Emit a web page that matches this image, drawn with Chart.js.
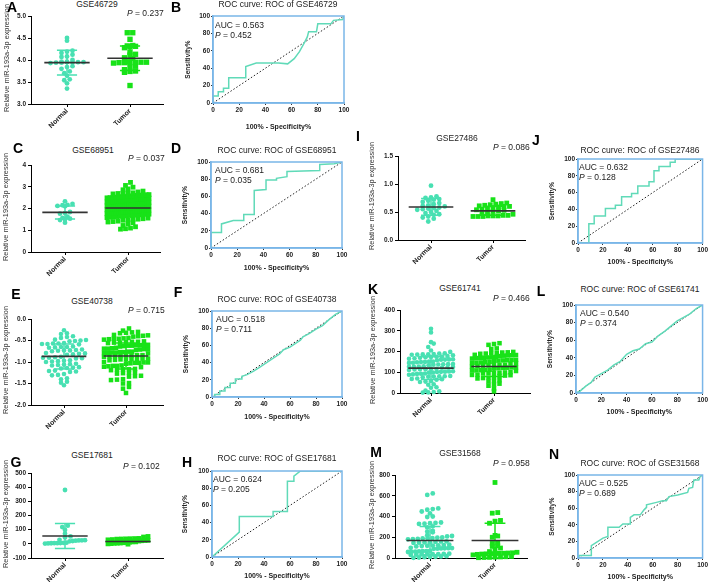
<!DOCTYPE html>
<html><head><meta charset="utf-8">
<script src="https://cdn.jsdelivr.net/npm/chart.js@4/dist/chart.umd.min.js"></script>
<style>
body{margin:0;background:#fff;width:709px;height:582px;position:relative;overflow:hidden;font-family:Arial,"Liberation Sans",Helvetica,sans-serif;}
canvas{position:absolute;}
.t{position:absolute;white-space:nowrap;color:#222;line-height:1;}
.ttl{font-size:8.5px;}
.pv{font-size:8.5px;}
.auc{font-size:8.5px;}
.yt{font-size:7.3px;color:#333;}
.lt{font-weight:bold;font-size:14px;color:#000;}
</style></head><body>
<script>
// ---------------- DATA ----------------
const groups = ['Normal', 'Tumor'];
const yTitle = 'Relative miR-193a-3p expression';

// Panel A: GSE46729
const A_normal = [4.50,4.44,4.21,4.19,4.16,4.12,4.08,4.07,4.00,3.96,3.95,3.95,3.94,3.94,3.95,3.96,3.95,3.93,3.86,3.84,3.80,3.74,3.70,3.64,3.56,3.54,3.47,3.35];
const A_tumor = [4.62,4.62,4.47,4.33,4.32,4.31,4.30,4.28,4.18,4.13,4.11,4.05,4.04,3.96,3.95,3.95,3.94,3.94,3.93,3.95,3.94,3.86,3.84,3.78,3.75,3.74,3.72,3.42];
const A_mean = [3.94, 4.04];
const A_sd = [0.28, 0.28];

// Panel C: GSE68951
const C_normal = [2.33,2.21,2.17,2.15,2.12,2.10,1.84,1.79,1.76,1.62,1.57,1.53,1.50,1.47,1.35];
const C_tumor = [3.20,3.06,2.98,2.90,2.86,2.80,2.76,
2.72,2.69,2.70,2.67,2.71,
2.64,2.61,2.63,2.58,2.60,2.62,2.57,2.59,
2.53,2.51,2.55,2.48,2.50,2.52,2.47,2.54,2.49,2.46,
2.44,2.41,2.43,2.38,2.40,2.42,2.37,2.39,2.45,2.36,2.41,
2.33,2.31,2.34,2.28,2.30,2.32,2.27,2.29,2.35,2.26,2.31,2.30,
2.23,2.21,2.24,2.18,2.20,2.22,2.17,2.19,2.25,2.16,2.21,2.20,
2.13,2.11,2.14,2.08,2.10,2.12,2.07,2.09,2.15,2.06,2.11,2.10,
2.03,2.01,2.04,1.98,2.00,2.02,1.97,1.99,2.05,1.96,2.01,2.00,
1.93,1.91,1.94,1.88,1.90,1.92,1.87,1.89,1.95,1.86,1.91,
1.83,1.81,1.84,1.78,1.80,1.82,1.77,1.79,1.85,1.76,
1.73,1.71,1.74,1.68,1.70,1.72,1.67,1.69,
1.63,1.61,1.64,1.58,1.60,1.56,1.66,
1.53,1.51,1.48,1.50,1.46,
1.42,1.38,1.40,1.35,
1.30,1.22,1.16,1.10,1.07,1.05];
const C_mean = [1.82, 2.02];
const C_sd = [0.30, 0.35];

// Panel E: GSE40738
const E_normal = [-0.26,-0.33,-0.35,-0.40,-0.42,-0.44,-0.48,-0.50,-0.52,-0.49,-0.51,
-0.57,-0.58,-0.56,-0.59,-0.58,-0.57,-0.65,-0.66,-0.64,-0.67,-0.65,
-0.72,-0.74,-0.73,-0.71,-0.75,-0.73,-0.80,-0.82,-0.81,-0.79,-0.83,
-0.90,-0.88,-0.91,-0.89,-0.92,-0.90,-0.97,-0.99,-0.98,-1.00,-0.96,
-1.05,-1.07,-1.06,-1.04,-1.08,-1.14,-1.12,-1.15,-1.13,
-1.22,-1.20,-1.23,-1.21,-1.28,-1.30,-1.31,-1.38,-1.40,-1.46,-1.48,-1.54];
const E_tumor = [-0.22,-0.27,-0.30,-0.32,-0.33,-0.31,-0.38,-0.40,-0.39,-0.41,-0.37,
-0.46,-0.47,-0.45,-0.48,-0.46,-0.44,-0.53,-0.55,-0.54,-0.52,-0.56,-0.53,-0.55,
-0.61,-0.62,-0.60,-0.63,-0.61,-0.64,-0.62,-0.60,-0.68,-0.70,-0.69,-0.71,-0.67,-0.70,-0.72,-0.69,
-0.77,-0.78,-0.76,-0.79,-0.77,-0.80,-0.78,-0.76,-0.79,-0.85,-0.86,-0.84,-0.87,-0.85,-0.88,-0.86,-0.84,
-0.93,-0.94,-0.92,-0.95,-0.93,-0.96,-0.94,-0.92,-1.01,-1.02,-1.00,-1.03,-1.01,-1.04,-1.02,
-1.09,-1.10,-1.08,-1.11,-1.09,-1.12,-1.17,-1.18,-1.16,-1.19,-1.17,
-1.25,-1.26,-1.24,-1.27,-1.33,-1.34,-1.32,-1.41,-1.42,-1.40,-1.49,-1.50,-1.58,-1.62,-1.72];
const E_mean = [-0.87, -0.86];
const E_sd = [0.29, 0.30];

// Panel G: GSE17681
const G_normal = [380,128,118,98,72,52,45,28,25,22,20,26,24,18,8,5,4,6,3,5,2,7];
const G_tumor = [52,48,38,36,35,33,34,37,30,28,25,22,24,20,18,15,12,10,8,6,5,4,2,0,-2];
const G_mean = [55, 17];
const G_sd = [88, 15];

// Panel I: GSE27486
const I_normal = [0.97,0.78,0.76,0.75,0.73,0.72,0.70,0.68,0.66,0.64,0.62,0.61,0.60,0.58,0.57,0.56,0.55,0.54,0.52,0.50,0.48,0.46,0.45,0.42,0.40,0.38,0.33];
const I_tumor = [0.72,0.66,0.65,0.64,0.63,0.62,0.61,0.60,0.60,0.59,0.58,0.57,0.55,0.54,0.53,0.52,0.51,0.49,0.47,0.46,0.44,0.43,0.43,0.42,0.42,0.43,0.44,0.42];
const I_mean = [0.59, 0.52];
const I_sd = [0.15, 0.08];

// Panel K: GSE61741
const K_normal = [310,292,245,238,222,205,198,188,185,190,182,186,191,184,187,
175,172,178,170,176,173,162,160,165,158,163,161,167,150,148,152,146,151,149,145,
138,136,140,134,139,137,127,125,129,123,128,126,122,115,113,117,111,116,114,
103,101,105,99,104,102,98,92,90,94,88,93,80,78,82,76,81,79,68,66,70,64,55,53,57,42,40,28,25,12,8,5,3,2];
const K_tumor = [240,236,232,215,212,195,192,198,190,196,193,189,182,180,184,178,183,181,
170,168,172,166,171,169,174,158,156,160,154,159,157,146,144,148,142,147,145,150,
134,132,136,130,135,133,122,120,124,118,123,121,126,110,108,112,106,111,109,
98,96,100,94,99,97,86,84,88,82,87,74,72,76,70,62,58,55,45,40,35,20,8];
const K_mean = [120, 128];
const K_sd = [55, 48];

// Panel M: GSE31568
const M_normal = [622,608,478,472,465,448,430,400,395,342,338,335,330,328,305,295,262,255,248,220,212,208,
198,192,188,185,182,195,190,180,158,152,150,148,155,145,160,125,120,118,122,115,128,112,
98,95,92,90,88,94,96,68,65,62,60,58,66,64,42,38,35,32,36,40,30,34,18,15,12,10,8,5,2];
const M_tumor = [728,438,432,362,355,335,218,212,200,148,140,118,112,96,86,62,55,50,48,46,45,44,42,40,38,35,30,15,12,10,8,6,5,3];
const M_mean = [168, 168];
const M_sd = [136, 168];

// ROC curves (x = 100% - specificity, y = sensitivity)
const B_x = [0,0,4,4,8,8,12,12,25,25,33,45,50,57,62,66,70,72,73,79,80,90,92,99,100];
const B_y = [0,8,8,13,13,17,17,29,29,42,46,46,46,45,51,59,70,76,82,82,91,91,95,96,100];
const D_x = [0,0,8,8,17,25,25,33,33,42,42,50,50,58,58,83,83,94,100];
const D_y = [0,18,18,28,32,32,39,39,67,68,79,79,81,83,89,90,97,98,100];
const F_x = [0,2,2,6,6,10,10,14,14,18,18,23,23,27,32,36,40,44,48,52,55,60,64,68,70,75,80,85,90,95,100];
const F_y = [0,0,3,3,7,7,11,11,16,16,21,21,24,26,30,34,38,42,46,50,55,58,62,66,70,74,79,83,90,96,100];
const H_x = [0,21,21,47,47,58,58,63,63,68,100];
const H_y = [0,29,47,47,53,53,88,88,94,100,100];
const J_x = [0,8.7,8.7,13,13,22,22,30,30,35,35,43,43,48,48,57,57,61,61,65,65,74,74,78,78,100];
const J_y = [0,0,23,23,32,32,41,41,45,45,55,55,59,59,68,68,73,73,86,86,91,91,96,96,100,100];
const L_x = [0,3,8,12,15,20,25,30,35,40,45,50,55,60,65,70,75,80,85,90,95,100];
const L_y = [0,2,8,12,18,22,26,32,36,44,48,50,56,58,65,70,76,82,86,90,96,100];
const N_x = [0,1,10.7,10.7,20,24,24,33,36,42,42,45,50,53,55,55,63,68,71,73,80,88,89,92,93,97,98,100];
const N_y = [0,3,3,15,24,26,37,37,41,41,49,52,52,58,61,64,67,69,69,74,76,79,84,85,94,94,98,100];

const scatterIds = ['GSE46729','GSE68951','GSE40738','GSE17681','GSE27486','GSE61741','GSE31568'];
const scatterP = ['0.237','0.037','0.715','0.102','0.086','0.466','0.958'];
const rocIds = ['GSE46729','GSE68951','GSE40738','GSE17681','GSE27486','GSE61741','GSE31568'];
const rocAUC = ['0.563','0.681','0.518','0.624','0.632','0.540','0.525'];
const rocP = ['0.452','0.035','0.711','0.205','0.128','0.374','0.689'];

// ---------------- STYLE ----------------
const FONT = 'Arial, "Liberation Sans", Helvetica, sans-serif';
Chart.defaults.font.family = FONT;
Chart.defaults.color = '#222';
const NORMAL_COLOR = 'rgb(72,224,178)';
const TUMOR_COLOR = 'rgb(24,226,24)';
const ROC_COLOR = 'rgb(96,218,184)';
const BOX_COLOR = 'rgb(122,182,232)';

function makeCanvas(left, top, w, h) {
  const c = document.createElement('canvas');
  c.width = w; c.height = h;
  c.style.left = left + 'px'; c.style.top = top + 'px';
  c.style.width = w + 'px'; c.style.height = h + 'px';
  document.body.appendChild(c);
  return c;
}
function txt(html, x, y, cls, mode) {
  const d = document.createElement('div');
  d.className = 't ' + cls;
  d.innerHTML = html;
  d.style.left = x + 'px'; d.style.top = y + 'px';
  d.style.transform = mode === 'c' ? 'translate(-50%,-50%)' : mode === 'r' ? 'translate(-50%,-50%) rotate(-90deg)' : 'translate(0,-50%)';
  document.body.appendChild(d);
}
// Prism-like row layout of dots (x spread computed from the values)
function swarm(vals, center, ymin, ymax, H, pxPerX, rowPx, dotPx, halfPx) {
  const bins = {};
  vals.forEach(v => {
    const k = Math.round(((v - ymin) / (ymax - ymin) * H) / rowPx);
    (bins[k] = bins[k] || []).push(v);
  });
  const out = [];
  Object.values(bins).forEach(arr => {
    arr.sort((a, b) => a - b);
    const n = arr.length;
    const sp = n > 1 ? Math.min(dotPx, 2 * halfPx / (n - 1)) : 0;
    arr.forEach((v, i) => out.push({x: center + (i - (n - 1) / 2) * sp / pxPerX, y: v}));
  });
  return out;
}

function scatterPanel(p) {
  const [l, t, r, b] = p.area;
  const yW = 26;
  const cLeft = l - yW;
  const padTop = 6, padRight = 4, xH = 30;
  const cTop = t - padTop;
  const w = r + padRight - cLeft, h = b + xH - cTop;
  const pxPerX = p.tumorPx - p.normalPx;
  const xmin = 1 - (p.normalPx - l) / pxPerX, xmax = 2 + (r - p.tumorPx) / pxPerX;
  const H = b - t;
  const sw = (vals, c) => swarm(vals, c, p.ymin, p.ymax, H, pxPerX, p.row, p.dot, p.half);
  const msd = {
    id: 'msd',
    afterDatasetsDraw(chart) {
      const {ctx, scales: {x, y}} = chart;
      [0, 1].forEach(i => {
        const cx = i + 1, m = p.mean[i], s = p.sd[i];
        const px = x.getPixelForValue(cx);
        const yt = y.getPixelForValue(m + s), yb = y.getPixelForValue(m - s);
        const c0 = x.getPixelForValue(cx - 0.16), c1 = x.getPixelForValue(cx + 0.16);
        ctx.save();
        ctx.strokeStyle = i === 0 ? NORMAL_COLOR : TUMOR_COLOR;
        ctx.lineWidth = 1.5;
        ctx.beginPath();
        ctx.moveTo(px, yt); ctx.lineTo(px, yb);
        ctx.moveTo(c0, yt); ctx.lineTo(c1, yt);
        ctx.moveTo(c0, yb); ctx.lineTo(c1, yb);
        ctx.stroke();
        ctx.strokeStyle = '#333'; ctx.lineWidth = 1.6;
        const ym = y.getPixelForValue(m);
        ctx.beginPath();
        ctx.moveTo(x.getPixelForValue(cx - 0.36), ym);
        ctx.lineTo(x.getPixelForValue(cx + 0.36), ym);
        ctx.stroke();
        ctx.restore();
      });
    }
  };
  new Chart(makeCanvas(cLeft, cTop, w, h), {
    type: 'scatter',
    data: {datasets: [
      {data: sw(p.normal, 1), pointStyle: 'circle', pointRadius: p.cr, backgroundColor: NORMAL_COLOR, borderWidth: 0, clip: false},
      {data: sw(p.tumor, 2), pointStyle: 'rect', pointRadius: p.sr, backgroundColor: TUMOR_COLOR, borderWidth: 0, clip: false}
    ]},
    options: {
      responsive: false, animation: false, devicePixelRatio: 1,
      layout: {padding: {top: padTop, right: padRight, left: 0, bottom: 0}},
      plugins: {legend: {display: false}, tooltip: {enabled: false}},
      scales: {
        x: {type: 'linear', min: xmin, max: xmax,
          afterBuildTicks: s => { s.ticks = [{value: 1}, {value: 2}]; },
          ticks: {callback: v => groups[Math.round(v) - 1], minRotation: 45, maxRotation: 45, font: {size: 7, weight: 'bold'}, color: '#222', padding: 0},
          grid: {drawOnChartArea: false, color: '#000', tickLength: 3},
          border: {color: '#000', width: 1},
          afterFit: s => { s.height = xH; }
        },
        y: {min: p.ymin, max: p.ymax,
          ticks: {stepSize: p.step, callback: v => v.toFixed(p.dec), font: {size: 6.5, weight: 'bold'}, color: '#222', padding: 2},
          grid: {drawOnChartArea: false, color: '#000', tickLength: 3},
          border: {color: '#000', width: 1},
          afterFit: s => { s.width = yW; }
        }
      }
    },
    plugins: [msd]
  });
  txt(yTitle, p.yTitleX, (t + b) / 2 - 2, 'yt', 'r');
}

function rocPanel(p) {
  const [l, t, r, b] = p.area;
  const ys = 6.5, ylh = ys * 1.2, xs = 7, xlh = xs * 1.2;
  const cLeft = Math.round(p.yTitleX - ylh / 2 - 1);
  const yW = l - cLeft;
  const cBottom = Math.round(p.xTitleY + xlh / 2 + 1);
  const xH = cBottom - b;
  const padTop = 6, padRight = Math.min(8, 709 - r);
  const cTop = t - padTop;
  const w = r + padRight - cLeft, h = cBottom - cTop;
  const box = {
    id: 'box',
    afterDatasetsDraw(chart) {
      const {ctx, chartArea: a} = chart;
      ctx.save();
      ctx.strokeStyle = BOX_COLOR; ctx.lineWidth = 1.5;
      ctx.strokeRect(a.left, a.top, a.right - a.left, a.bottom - a.top);
      ctx.restore();
    }
  };
  const axis = (title, fit) => ({
    type: 'linear', min: 0, max: 100,
    ticks: {stepSize: 20, font: {size: 6.5, weight: 'bold'}, color: '#222', padding: 1},
    grid: {drawOnChartArea: false, color: '#333', tickLength: 2},
    border: {color: BOX_COLOR, width: 1.5},
    title: {display: true, text: title, font: {size: title === 'Sensitivity%' ? ys : xs, weight: 'bold'}, color: '#222', padding: {top: 1, bottom: 1}},
    afterFit: fit
  });
  new Chart(makeCanvas(cLeft, cTop, w, h), {
    type: 'line',
    data: {datasets: [
      {data: p.xs.map((x, i) => ({x, y: p.ys[i]})), borderColor: ROC_COLOR, borderWidth: 1.5, pointRadius: 0, tension: 0, fill: false},
      {data: [{x: 0, y: 0}, {x: 100, y: 100}], borderColor: '#222', borderWidth: 1, borderDash: [1.5, 2], pointRadius: 0, fill: false}
    ]},
    options: {
      responsive: false, animation: false, devicePixelRatio: 1,
      layout: {padding: {top: padTop, right: padRight, left: 0, bottom: 0}},
      plugins: {legend: {display: false}, tooltip: {enabled: false}},
      scales: {
        x: axis('100% - Specificity%', s => { s.height = xH; }),
        y: axis('Sensitivity%', s => { s.width = yW; })
      }
    },
    plugins: [box]
  });
}

// ---------------- LAYOUT ----------------
const scatterLayout = [
  {area: [31, 16, 163, 104], normalPx: 67, tumorPx: 130, yTitleX: 7, ymin: 3, ymax: 5, step: 0.5, dec: 1, normal: A_normal, tumor: A_tumor, mean: A_mean, sd: A_sd, row: 4, dot: 5.5, half: 20, cr: 2.4, sr: 3.8,
   letter: ['A', 12, 7], title: [97, 4], pv: [127, 13]},
  {area: [31, 165, 160, 252], normalPx: 65, tumorPx: 128, yTitleX: 6, ymin: 0, ymax: 4, step: 1, dec: 0, normal: C_normal, tumor: C_tumor, mean: C_mean, sd: C_sd, row: 4, dot: 5, half: 21, cr: 2.4, sr: 3.4,
   letter: ['C', 18, 148], title: [93, 150], pv: [128, 158]},
  {area: [31, 319, 163, 405], normalPx: 64, tumorPx: 126, yTitleX: 6, ymin: -2, ymax: 0, step: 0.5, dec: 1, normal: E_normal, tumor: E_tumor, mean: E_mean, sd: E_sd, row: 4.5, dot: 6, half: 22, cr: 2.3, sr: 3.2,
   letter: ['E', 16, 294], title: [92, 301], pv: [128, 310]},
  {area: [31, 473, 163, 558], normalPx: 65, tumorPx: 128, yTitleX: 6, ymin: -100, ymax: 500, step: 100, dec: 0, normal: G_normal, tumor: G_tumor, mean: G_mean, sd: G_sd, row: 4, dot: 5.5, half: 20, cr: 2.4, sr: 3.4,
   letter: ['G', 16, 462], title: [92, 455], pv: [123, 466]},
  {area: [398, 156, 525, 240], normalPx: 431, tumorPx: 493, yTitleX: 372, ymin: 0, ymax: 1.5, step: 0.5, dec: 1, normal: I_normal, tumor: I_tumor, mean: I_mean, sd: I_sd, row: 4, dot: 5.5, half: 20, cr: 2.4, sr: 3.4,
   letter: ['I', 358, 136], title: [457, 138], pv: [493, 147]},
  {area: [400, 310, 530, 393], normalPx: 431, tumorPx: 494, yTitleX: 373, ymin: 0, ymax: 400, step: 100, dec: 0, normal: K_normal, tumor: K_tumor, mean: K_mean, sd: K_sd, row: 4, dot: 5.5, half: 22, cr: 2.3, sr: 3.2,
   letter: ['K', 373, 289], title: [460, 288], pv: [493, 298]},
  {area: [395, 475, 527, 558], normalPx: 430, tumorPx: 495, yTitleX: 372, ymin: 0, ymax: 800, step: 200, dec: 0, normal: M_normal, tumor: M_tumor, mean: M_mean, sd: M_sd, row: 4, dot: 5.5, half: 22, cr: 2.4, sr: 3.4,
   letter: ['M', 376, 452], title: [460, 453], pv: [493, 463]}
];
const rocLayout = [
  {area: [213, 16, 344, 103], yTitleX: 188, xTitleY: 127, xs: B_x, ys: B_y, letter: ['B', 176, 7], title: [278, 4], auc: [215, 25]},
  {area: [211, 162, 342, 248], yTitleX: 185, xTitleY: 268, xs: D_x, ys: D_y, letter: ['D', 176, 148], title: [277, 150], auc: [215, 170]},
  {area: [212, 311, 342, 397], yTitleX: 186, xTitleY: 417, xs: F_x, ys: F_y, letter: ['F', 178, 292], title: [277, 299], auc: [216, 319]},
  {area: [212, 471, 342, 557], yTitleX: 185, xTitleY: 576, xs: H_x, ys: H_y, letter: ['H', 187, 462], title: [277, 458], auc: [213, 479]},
  {area: [578, 159, 703, 243], yTitleX: 552, xTitleY: 262, xs: J_x, ys: J_y, letter: ['J', 536, 140], title: [640, 150], auc: [579, 167]},
  {area: [576, 305, 703, 393], yTitleX: 550, xTitleY: 412, xs: L_x, ys: L_y, letter: ['L', 541, 291], title: [640, 289], auc: [580, 313]},
  {area: [578, 475, 703, 558], yTitleX: 552, xTitleY: 577, xs: N_x, ys: N_y, letter: ['N', 554, 454], title: [640, 463], auc: [579, 483]}
];

scatterLayout.forEach((p, i) => {
  scatterPanel(p);
  txt(p.letter[0], p.letter[1], p.letter[2], 'lt', 'c');
  txt(scatterIds[i], p.title[0], p.title[1], 'ttl', 'c');
  txt('<i>P</i> = ' + scatterP[i], p.pv[0], p.pv[1], 'pv', 'l');
});
rocLayout.forEach((p, i) => {
  rocPanel(p);
  txt(p.letter[0], p.letter[1], p.letter[2], 'lt', 'c');
  txt('ROC curve: ROC of ' + rocIds[i], p.title[0], p.title[1], 'ttl', 'c');
  txt('AUC = ' + rocAUC[i], p.auc[0], p.auc[1], 'auc', 'l');
  txt('<i>P</i> = ' + rocP[i], p.auc[0], p.auc[1] + 9.5, 'auc', 'l');
});
</script>
</body></html>
